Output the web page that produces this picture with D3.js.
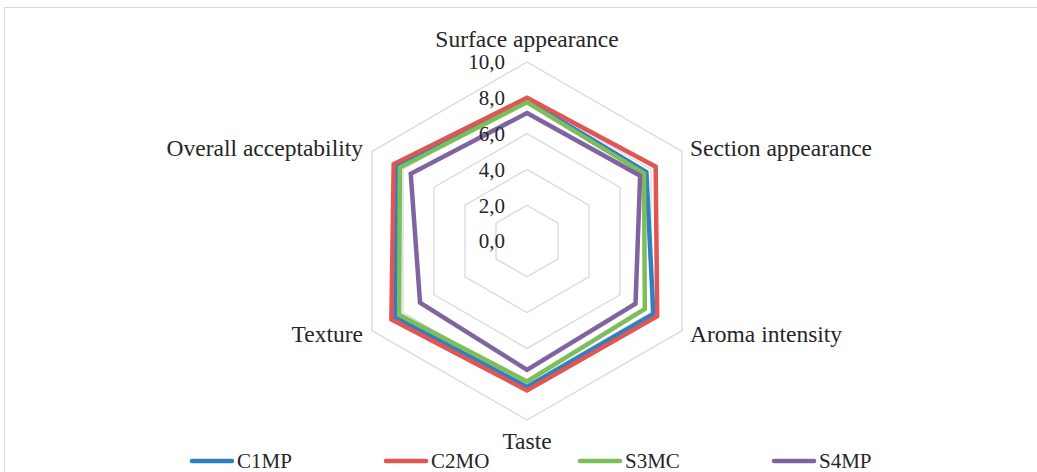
<!DOCTYPE html>
<html><head><meta charset="utf-8">
<script src="https://cdn.jsdelivr.net/npm/d3@7"></script>
<style>
html,body{margin:0;padding:0;background:#fff;}
svg{display:block;}
text{font-family:"Liberation Serif","Times New Roman",serif;fill:#262626;}
</style></head>
<body>
<script>
const axes = ["Surface appearance","Section appearance","Aroma intensity","Taste","Texture","Overall acceptability"];
const seriesNames = ["C1MP","C2MO","S3MC","S4MP"];
const C1MP = [7.85, 7.7, 8.15, 8.15, 8.5, 8.4];
const C2MO = [8.0, 8.3, 8.4, 8.35, 8.75, 8.6];
const S3MC = [7.75, 7.55, 7.6, 7.85, 8.25, 8.2];
const S4MP = [7.15, 7.3, 7.0, 7.2, 6.9, 7.5];
const tickValues = [0, 2, 4, 6, 8, 10];
const tickLabels = ["0,0","2,0","4,0","6,0","8,0","10,0"];
const colors = ["#2E80C2","#E15554","#7CBE5A","#8064A2"];
const seriesData = [C1MP, C2MO, S3MC, S4MP];

const W = 1037, H = 472;
const cx = 527, cy = 241, R = 179;
const svg = d3.select("body").append("svg").attr("width", W).attr("height", H);

// outer border
svg.append("rect").attr("x", 4.5).attr("y", 7.5).attr("width", W + 10).attr("height", H + 10)
  .attr("fill", "none").attr("stroke", "#d9d9d9").attr("stroke-width", 1);

const r = d3.scaleLinear().domain([0, 10]).range([0, R]);
const n = axes.length;
const angle = d3.scaleLinear().domain([0, n]).range([0, 2 * Math.PI]);

const radial = d3.lineRadial().angle((d, i) => angle(i)).radius(d => r(d)).curve(d3.curveLinearClosed);

const g = svg.append("g").attr("transform", `translate(${cx},${cy})`);

// grid rings
g.selectAll("path.ring").data(tickValues.filter(v => v > 0)).join("path")
  .attr("class", "ring")
  .attr("d", v => radial(axes.map(() => v)))
  .attr("fill", "none").attr("stroke", "#d9d9d9").attr("stroke-width", 1.3);

// series
seriesData.forEach((vals, si) => {
  g.append("path").attr("d", radial(vals))
    .attr("fill", "none").attr("stroke", colors[si]).attr("stroke-width", 4.5)
    .attr("stroke-linejoin", "miter");
});

// tick labels
g.selectAll("text.tick").data(tickValues).join("text")
  .attr("class", "tick")
  .attr("x", -22).attr("y", v => -r(v)).attr("dy", "0.35em")
  .attr("text-anchor", "end").attr("font-size", 21)
  .text((v, i) => tickLabels[i]);

// axis labels
axes.forEach((name, i) => {
  const a = angle(i);
  const vx = Math.sin(a) * R, vy = -Math.cos(a) * R;
  let x = vx, y = vy, anchor = "middle";
  if (Math.abs(Math.sin(a)) < 0.01) {
    y = vy + (vy < 0 ? -23 : 21);
  } else {
    anchor = vx > 0 ? "start" : "end";
    x = vx + (vx > 0 ? 8 : -9);
    y = vy + (vy < 0 ? -3.5 : 3.5);
  }
  g.append("text").attr("x", x).attr("y", y).attr("dy", "0.35em")
    .attr("text-anchor", anchor).attr("font-size", 23.5).text(name);
});

// legend
const legX = d3.scalePoint().domain(seriesNames).range([190, 772]);
const leg = svg.append("g");
seriesNames.forEach((s, i) => {
  const x0 = legX(s);
  leg.append("line").attr("x1", x0 + 2).attr("x2", x0 + 42).attr("y1", 461).attr("y2", 461)
    .attr("stroke", colors[i]).attr("stroke-width", 4.5).attr("stroke-linecap", "round");
  leg.append("text").attr("x", x0 + 47).attr("y", 461).attr("dy", "0.35em")
    .attr("font-size", 21).text(s);
});
</script>
</body></html>
